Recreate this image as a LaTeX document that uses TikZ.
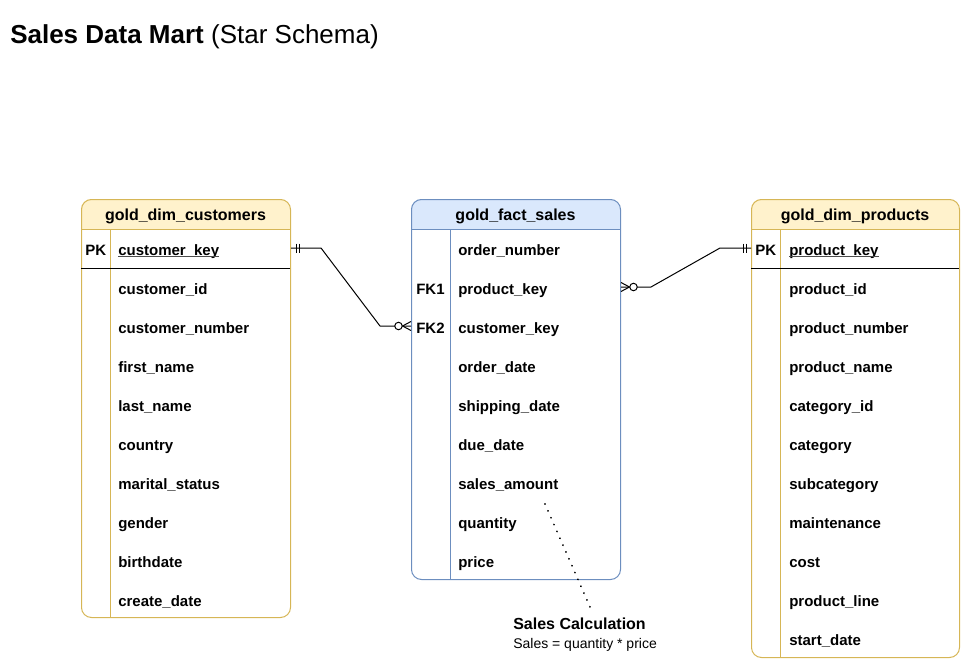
\documentclass[tikz,border=0pt]{standalone}
\usepackage{fontspec}
\setmainfont{Liberation Sans}
\usetikzlibrary{calc}
\definecolor{ylwfill}{HTML}{FFF2CC}
\definecolor{ylwline}{HTML}{D6B656}
\definecolor{blufill}{HTML}{DAE8FC}
\definecolor{bluline}{HTML}{6C8EBF}
\begin{document}
\begin{tikzpicture}[x=0.75pt,y=-0.75pt,
  fld/.style={font=\bfseries\fontsize{11.25pt}{13pt}\selectfont, anchor=base west, inner sep=0pt},
  hdr/.style={font=\bfseries\fontsize{12pt}{14pt}\selectfont, anchor=base, inner sep=0pt},
  tbl/.style={rounded corners=7.5pt, line width=0.75pt, anchor=north west, inner sep=0pt},
  rel/.style={line width=0.75pt, draw=black},
  dotline/.style={line width=1.5pt, dash pattern=on 0.01pt off 5.6pt, line cap=round}]
\useasboundingbox (0,0) rectangle (961,671);

% title
\node[anchor=base west, inner sep=0pt, font=\fontsize{19.5pt}{22pt}\selectfont] (title) at (10,43) {\textbf{Sales Data Mart} (Star Schema)};

% ---------- customers ----------
\begin{scope}
\clip[rounded corners=7.5pt] (81,199) rectangle (290,617);
\fill[ylwfill] (81,199) rectangle (290,229);
\end{scope}
\node[tbl, draw=ylwline, minimum width=156.75pt, minimum height=313.5pt] (cust) at (81,199) {};
\draw[ylwline, line width=0.75pt] (81,229) -- (290,229) (110.5,229) -- (110.5,617);
\draw[black, line width=0.75pt] (81,268) -- (290,268);
\node[hdr] (custh) at (185.5,220) {gold\_dim\_customers};
\node[fld] (cpk) at (85,255) {PK};
\foreach \t [count=\i] in {customer\_key, customer\_id, customer\_number, first\_name, last\_name, country, marital\_status, gender, birthdate, create\_date}
  \node[fld] (c\i) at (118,216+39*\i) {\t};
\draw[line width=0.75pt, black!70] ($(c1.base west)+(0,1.8)$) -- ($(c1.base east)+(0,1.8)$);

% ---------- fact ----------
\begin{scope}
\clip[rounded corners=7.5pt] (411,199) rectangle (620,579);
\fill[blufill] (411,199) rectangle (620,229);
\end{scope}
\node[tbl, draw=bluline, minimum width=156.75pt, minimum height=285pt] (fact) at (411,199) {};
\draw[bluline, line width=0.75pt] (411,229) -- (620,229) (450.5,229) -- (450.5,579);
\node[hdr] (facth) at (515.5,220) {gold\_fact\_sales};
\node[fld] (ffk1) at (416,294) {FK1};
\node[fld] (ffk2) at (416,333) {FK2};
\foreach \t [count=\i] in {order\_number, product\_key, customer\_key, order\_date, shipping\_date, due\_date, sales\_amount, quantity, price}
  \node[fld] (f\i) at (458,216+39*\i) {\t};

% ---------- products ----------
\begin{scope}
\clip[rounded corners=7.5pt] (751,199) rectangle (959,657);
\fill[ylwfill] (751,199) rectangle (959,229);
\end{scope}
\node[tbl, draw=ylwline, minimum width=156pt, minimum height=343.5pt] (prod) at (751,199) {};
\draw[ylwline, line width=0.75pt] (751,229) -- (959,229) (780.5,229) -- (780.5,657);
\draw[black, line width=0.75pt] (751,268) -- (959,268);
\node[hdr] (prodh) at (855,220) {gold\_dim\_products};
\node[fld] (ppk) at (755,255) {PK};
\foreach \t [count=\i] in {product\_key, product\_id, product\_number, product\_name, category\_id, category, subcategory, maintenance, cost, product\_line, start\_date}
  \node[fld] (p\i) at (789,216+39*\i) {\t};
\draw[line width=0.75pt, black!70] ($(p1.base west)+(0,1.8)$) -- ($(p1.base east)+(0,1.8)$);

% ---------- relationships ----------
\coordinate (ck) at ($(cust.east |- c1.base)+(0,-7)$);
\coordinate (fk2) at ($(fact.west |- f3.base)+(0,-7)$);
\coordinate (fk1) at ($(fact.east |- f2.base)+(0,-7)$);
\coordinate (pk) at ($(prod.west |- p1.base)+(0,-7)$);

\draw[rel] (ck) -- ++(30,0) -- ($(fk2)+(-31,0)$) -- (fk2);
\draw[rel] ($(ck)+(5,-4.5)$) -- ++(0,9) ($(ck)+(8,-4.5)$) -- ++(0,9);
\draw[rel] ($(fk2)+(-8.5,0)$) -- ($(fk2)+(0,-4.5)$) ($(fk2)+(-8.5,0)$) -- ($(fk2)+(0,4.5)$);
\draw[rel, fill=white] ($(fk2)+(-12.5,0)$) circle[radius=2.8pt];

\draw[rel] (fk1) -- ++(30,0) -- ($(pk)+(-31,0)$) -- (pk);
\draw[rel] ($(pk)+(-8,-4.5)$) -- ++(0,9) ($(pk)+(-5,-4.5)$) -- ++(0,9);
\draw[rel] ($(fk1)+(8.5,0)$) -- ($(fk1)+(0,-4.5)$) ($(fk1)+(8.5,0)$) -- ($(fk1)+(0,4.5)$);
\draw[rel, fill=white] ($(fk1)+(12.5,0)$) circle[radius=2.8pt];

% ---------- annotation ----------
\node[anchor=base west, inner sep=0pt, font=\bfseries\fontsize{12pt}{14pt}\selectfont] (note) at (513,629.5) {Sales Calculation};
\node[anchor=base west, inner sep=0pt, font=\fontsize{10.5pt}{12pt}\selectfont] (formula) at (513,648) {Sales = quantity * price};
\coordinate (dotA) at (545,504);
\coordinate (dotB) at (590,607);
\draw[dotline] (dotA) -- (dotB);
\end{tikzpicture}
\end{document}
